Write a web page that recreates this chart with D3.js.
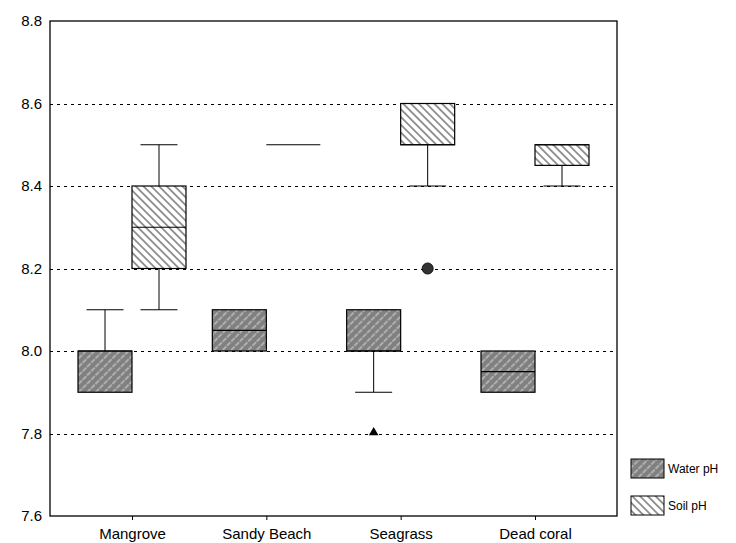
<!DOCTYPE html>
<html><head><meta charset="utf-8">
<script src="https://cdn.jsdelivr.net/npm/d3@7"></script>
<style>body{margin:0;background:#fff}svg{display:block;font-family:Arial,"Liberation Sans",sans-serif}</style>
</head><body><svg id="c" width="736" height="543"></svg>
<script>
const categories = ["Mangrove","Sandy Beach","Seagrass","Dead coral"];
const yTicks = [7.6,7.8,8.0,8.2,8.4,8.6,8.8];
const gridTicks = [7.8,8.0,8.2,8.4,8.6];
const waterMin    = [7.9, 8.0, 7.9, 7.9];
const waterQ1     = [7.9, 8.0, 8.0, 7.9];
const waterMedian = [8.0, 8.05, 8.0, 7.95];
const waterQ3     = [8.0, 8.1, 8.1, 8.0];
const waterMax    = [8.1, 8.1, 8.1, 8.0];
const soilMin     = [8.1, 8.5, 8.4, 8.4];
const soilQ1      = [8.2, 8.5, 8.5, 8.45];
const soilMedian  = [8.3, 8.5, 8.5, 8.5];
const soilQ3      = [8.4, 8.5, 8.6, 8.5];
const soilMax     = [8.5, 8.5, 8.6, 8.5];
const waterOutliers = [{cat:"Seagrass", v:7.8}];
const soilOutliers  = [{cat:"Seagrass", v:8.2}];
const seriesNames = ["Water pH","Soil pH"];

const svg = d3.select("#c");
const L=50,R=617,T=21,B=516;
const y = d3.scaleLinear().domain([7.6,8.8]).range([B,T]);
const x = d3.scalePoint().domain(categories).range([132,535]);
const bw = 54, cap = 37;

const defs = svg.append("defs");
const pw = defs.append("pattern").attr("id","water").attr("patternUnits","userSpaceOnUse")
  .attr("width",12).attr("height",6).attr("patternTransform","rotate(-45)");
pw.append("rect").attr("width",12).attr("height",6).attr("fill","#808080");
pw.append("line").attr("x1",0).attr("x2",12).attr("y1",3).attr("y2",3).attr("stroke","#bdbdbd")
  .attr("stroke-width",1.3).attr("stroke-dasharray","5,1");
const ps = defs.append("pattern").attr("id","soil").attr("patternUnits","userSpaceOnUse")
  .attr("width",10).attr("height",5.5).attr("patternTransform","rotate(45)");
ps.append("rect").attr("width",10).attr("height",5.5).attr("fill","#fff");
ps.append("line").attr("x1",0).attr("x2",10).attr("y1",2.75).attr("y2",2.75).attr("stroke","#555").attr("stroke-width",1.2);

// grid
svg.append("g").selectAll("line").data(gridTicks).join("line")
  .attr("x1",L).attr("x2",R).attr("y1",d=>Math.round(y(d))+0.5).attr("y2",d=>Math.round(y(d))+0.5)
  .attr("stroke","#000").attr("stroke-dasharray","3,4");

// y labels
svg.append("g").selectAll("text").data(yTicks).join("text")
  .attr("x",42).attr("y",d=>y(d)).attr("dy","0.35em").attr("text-anchor","end")
  .attr("font-size",15).text(d=>d.toFixed(1));

// x axis ticks & labels
const xa = d3.axisBottom(x).tickSize(4).tickSizeOuter(0);
const xg = svg.append("g").attr("transform",`translate(0,${B})`).call(xa);
xg.select(".domain").remove();
xg.selectAll("text").attr("font-size",15).attr("font-family","Arial, Liberation Sans").attr("fill","#000").attr("dy","1.05em");
xg.selectAll("line").attr("stroke","#000");

function drawSeries(off, mins, q1, med, q3, maxs, fill){
  const g = svg.append("g");
  categories.forEach((c,i)=>{
    const cx = x(c)+off;
    if (maxs[i]>q3[i]){
      g.append("line").attr("x1",cx).attr("x2",cx).attr("y1",y(maxs[i])).attr("y2",y(q3[i])).attr("stroke","#000");
      g.append("line").attr("x1",cx-cap/2).attr("x2",cx+cap/2).attr("y1",y(maxs[i])).attr("y2",y(maxs[i])).attr("stroke","#000");
    }
    if (mins[i]<q1[i]){
      g.append("line").attr("x1",cx).attr("x2",cx).attr("y1",y(q1[i])).attr("y2",y(mins[i])).attr("stroke","#000");
      g.append("line").attr("x1",cx-cap/2).attr("x2",cx+cap/2).attr("y1",y(mins[i])).attr("y2",y(mins[i])).attr("stroke","#000");
    }
    if (q3[i]>q1[i]){
      g.append("rect").attr("x",cx-bw/2).attr("y",y(q3[i])).attr("width",bw).attr("height",y(q1[i])-y(q3[i]))
        .attr("fill",fill).attr("stroke","#000").attr("stroke-width",1.2);
    }
    g.append("line").attr("x1",cx-bw/2).attr("x2",cx+bw/2).attr("y1",y(med[i])).attr("y2",y(med[i]))
      .attr("stroke","#000").attr("stroke-width",1.2);
  });
  return g;
}
drawSeries(-27, waterMin, waterQ1, waterMedian, waterQ3, waterMax, "url(#water)");
drawSeries(27, soilMin, soilQ1, soilMedian, soilQ3, soilMax, "url(#soil)");

// outliers
svg.append("g").selectAll("path").data(waterOutliers).join("path")
  .attr("d",d3.symbol(d3.symbolTriangle,40)())
  .attr("transform",d=>`translate(${x(d.cat)-27},${y(d.v)-1})`).attr("fill","#000");
svg.append("g").selectAll("circle").data(soilOutliers).join("circle")
  .attr("cx",d=>x(d.cat)+27).attr("cy",d=>y(d.v)).attr("r",5.5).attr("fill","#333").attr("stroke","#111");

// frame
svg.append("rect").attr("x",L).attr("y",T).attr("width",R-L).attr("height",B-T)
  .attr("fill","none").attr("stroke","#000").attr("stroke-width",1.3);

// legend
const lg = svg.append("g");
const fills = ["url(#water)","url(#soil)"];
seriesNames.forEach((n,i)=>{
  const yy = 459 + i*37;
  lg.append("rect").attr("x",631).attr("y",yy).attr("width",33).attr("height",19)
    .attr("fill",fills[i]).attr("stroke","#000");
  lg.append("text").attr("x",668).attr("y",yy+10).attr("dy","0.35em").attr("font-size",12).text(n);
});
</script></body></html>
